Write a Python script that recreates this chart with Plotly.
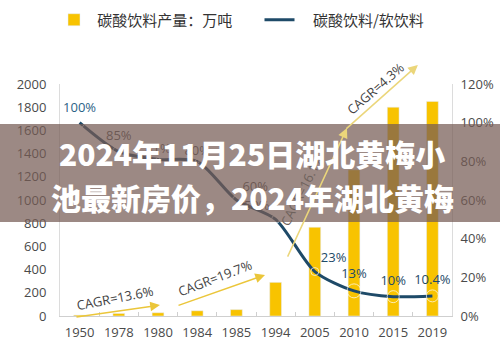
import plotly.graph_objects as go

# ---- data ----
categories = ["1950", "1978", "1980", "1984", "1985", "1994", "2005", "2010", "2015", "2019"]
production = [8, 22, 28, 45, 55, 290, 765, 1260, 1800, 1850]          # 碳酸饮料产量：万吨
share = [100, 85, 81, 80, 60, 50, 23, 13, 10, 10.4]                    # 碳酸饮料/软饮料 (%)
share_labels = ["100%", "85%", "81%", "80%", "60%", "50%", "23%", "13%", "10%", "10.4%"]
left_ticks = [0, 200, 400, 600, 800, 1000, 1200, 1400, 1600, 1800, 2000]
right_ticks = [0, 20, 40, 60, 80, 100, 120]
right_tick_text = ["0%", "20%", "40%", "60%", "80%", "100%", "120%"]
bar_name = "碳酸饮料产量：万吨"
line_name = "碳酸饮料/软饮料"
title_line1 = "2024年11月25日湖北黄梅小"
title_line2 = "池最新房价，2024年湖北黄梅"

FONT = "Open Sans, Noto Sans CJK SC, sans-serif"
CJK = "Noto Sans CJK SC, sans-serif"
BAR_C = "#F8C300"
LINE_C = "#1E4A68"
GREY_T = "#555555"

label_colors = ["#2B6286", GREY_T, GREY_T, GREY_T, GREY_T, GREY_T,
                "#1E4A68", "#1E4A68", "#1E4A68", "#1E4A68"]
label_pos = ["top center", "top center", "top center", "top center", "top right",
             "top left", "top right", "top center", "top center", "top center"]
label_gap = [10, 12, 4, 4, 8, 8, 8, 14, 12, 12]   # invisible marker sizes that set label gaps

fig = go.Figure()
fig.add_trace(go.Bar(
    x=categories, y=production, name="\u00a0" + bar_name, marker_color=BAR_C,
    width=0.3, yaxis="y", legend="legend",
))
fig.add_trace(go.Scatter(
    x=categories, y=share, name="\u00a0\u00a0\u00a0\u00a0" + line_name, mode="lines",
    line=dict(color=LINE_C, width=3, shape="spline", smoothing=0.75),
    yaxis="y2", legend="legend2",
))
fig.add_trace(go.Scatter(
    x=categories, y=share, mode="markers+text", text=share_labels,
    textposition=label_pos,
    marker=dict(size=label_gap, color="rgba(0,0,0,0)"),
    textfont=dict(family=FONT, size=13, color=label_colors),
    yaxis="y2", showlegend=False, hoverinfo="skip",
))

annotations = []
# CAGR arrows (decorations)
arrows = [
    (0.255, 0.047, -85, 12, "#EBC63A"),
    (0.523, 0.177, -88, 31, "#EBC63A"),
    (0.732, 0.810, -60, 130, "#EBD67A"),
    (0.913, 1.082, -73, 65, "#EBD67A"),
]
for x, y, ax, ay, c in arrows:
    annotations.append(dict(xref="paper", yref="paper", x=x, y=y, ax=ax, ay=ay,
                            text="", showarrow=True, arrowhead=2, arrowsize=1.3,
                            arrowwidth=1.5, arrowcolor=c, standoff=0))
cagr = [
    ("CAGR=13.6%", 0.140, 0.077, -11, "#444444"),
    ("CAGR=19.7%", 0.395, 0.165, -21, "#444444"),
    ("CAGR=16.1%", 0.617, 0.543, -63, "#6e625c"),
    ("CAGR=4.3%", 0.806, 0.983, -41, "#444444"),
]
for t, x, y, ang, c in cagr:
    annotations.append(dict(xref="paper", yref="paper", x=x, y=y, text=t,
                            xanchor="center", yanchor="middle",
                            showarrow=False, textangle=ang,
                            font=dict(family=FONT, size=13, color=c)))
# overlay banner text
annotations.append(dict(xref="paper", yref="paper", x=-0.008, y=(316 - 153) / 232,
                        xanchor="left", yanchor="middle", text=title_line1, showarrow=False,
                        font=dict(family=CJK, size=30, color="white", weight=900)))
annotations.append(dict(xref="paper", yref="paper", x=-0.028, y=(316 - 197) / 232,
                        xanchor="left", yanchor="middle", text=title_line2, showarrow=False,
                        font=dict(family=CJK, size=30, color="white", weight=900)))

fig.update_layout(
    width=500, height=347,
    margin=dict(l=60, r=48, t=84, b=31, autoexpand=False),
    paper_bgcolor="white", plot_bgcolor="white",
    font=dict(family=FONT, size=13, color="#4a4a4a"),
    bargap=0.7,
    xaxis=dict(type="category", range=[-0.5, 9.5], showline=True, linecolor="#cfcfcf",
               linewidth=1, ticks="inside", tickson="boundaries", ticklen=4,
               tickcolor="#cfcfcf", showgrid=False, tickfont=dict(size=13, color="#4a4a4a"),
               tickangle=0, automargin=False, ticklabelstandoff=4),
    yaxis=dict(range=[0, 2000], tickvals=left_ticks, showgrid=False, zeroline=False,
               showline=True, linecolor="#dcdcdc", linewidth=1, ticks="",
               tickfont=dict(size=13, color="#4a4a4a"), ticklabelstandoff=10,
               automargin=False),
    yaxis2=dict(range=[0, 120], tickvals=right_ticks, ticktext=right_tick_text,
                overlaying="y", side="right", showgrid=False, zeroline=False, showline=True,
                linecolor="#dcdcdc", linewidth=1, ticks="",
                tickfont=dict(size=13, color="#4a4a4a"), ticklabelstandoff=5,
                automargin=False),
    legend=dict(orientation="h", xref="container", yref="container", x=0.108, y=0.99,
                xanchor="left", yanchor="top", font=dict(family=CJK, size=15, color="#333333"),
                bgcolor="rgba(0,0,0,0)"),
    legend2=dict(orientation="h", xref="container", yref="container", x=0.519, y=0.99,
                 xanchor="left", yanchor="top", font=dict(family=CJK, size=15, color="#333333"),
                 bgcolor="rgba(0,0,0,0)"),
    shapes=[dict(type="rect", xref="paper", yref="paper", x0=-0.2, x1=1.2,
                 y0=(316 - 222) / 232, y1=(316 - 124) / 232, layer="above",
                 line=dict(width=0), fillcolor="rgba(118,92,84,0.72)")],
    annotations=annotations,
    showlegend=True,
)

fig.write_html("out.html")
